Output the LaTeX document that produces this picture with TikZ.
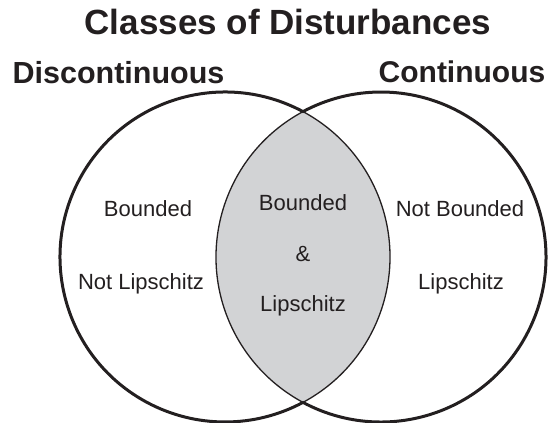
\documentclass[tikz,border=0pt]{standalone}
\usepackage{fontspec}
\setmainfont{Liberation Sans}
\definecolor{lensgray}{RGB}{210,211,213}
\definecolor{ink}{RGB}{35,31,32}
\begin{document}
\begin{tikzpicture}[x=1pt,y=1pt,
  outerarc/.style={draw=ink,line width=3pt},
  innerarc/.style={draw=ink,line width=1.3pt},
  lbl/.style={anchor=base,inner sep=0pt,text=ink,font=\fontsize{22}{26}\selectfont},
  hd/.style={anchor=base,inner sep=0pt,text=ink}]
\useasboundingbox (0,0) rectangle (550,423);
\coordinate (cl) at (225,166);
\coordinate (cr) at (381,166);
\begin{scope}
  \clip (cl) circle [radius=165pt];
  \fill[lensgray] (cr) circle [radius=165pt];
\end{scope}
\draw[outerarc] (cl) ++(61.7:165pt) arc [start angle=61.7,end angle=298.3,radius=165pt];
\draw[innerarc] (cl) ++(-61.7:165pt) arc [start angle=-61.7,end angle=61.7,radius=165pt];
\draw[outerarc] (cr) ++(-118.3:165pt) arc [start angle=-118.3,end angle=118.3,radius=165pt];
\draw[innerarc] (cr) ++(118.3:165pt) arc [start angle=118.3,end angle=241.7,radius=165pt];
\node[hd,font=\bfseries\fontsize{35}{40}\selectfont] (title) at (288,388) {Classes of Disturbances};
\node[hd,font=\bfseries\fontsize{30.5}{36}\selectfont] (disc) at (118.5,339) {Discontinuous};
\node[hd,font=\bfseries\fontsize{30}{36}\selectfont] (cont) at (462,340) {Continuous};
\node[lbl] (lb) at (148,206) {Bounded};
\node[lbl] (lnl) at (141,133) {Not Lipschitz};
\node[lbl] (mb) at (303,212) {Bounded};
\node[lbl] (amp) at (303,161) {\&};
\node[lbl] (ml) at (303,111) {Lipschitz};
\node[lbl] (rnb) at (460,206) {Not Bounded};
\node[lbl] (rl) at (461,133) {Lipschitz};
\end{tikzpicture}
\end{document}
